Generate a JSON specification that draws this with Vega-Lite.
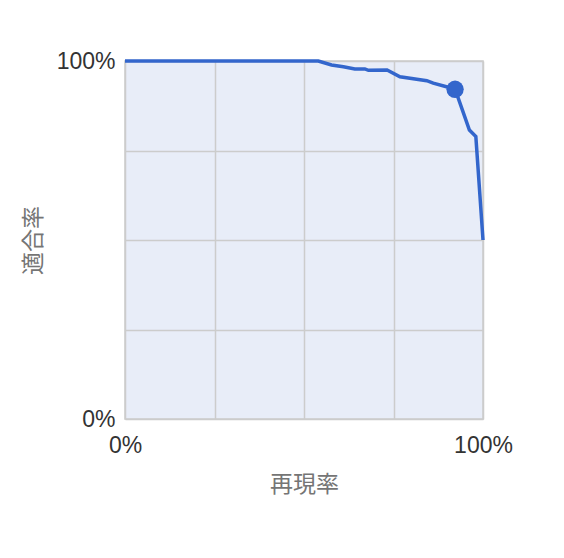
{
  "$schema": "https://vega.github.io/schema/vega-lite/v6.json",
  "width": 358,
  "height": 358,
  "autosize": {"type": "none"},
  "padding": {"left": 125, "top": 61, "right": 81, "bottom": 139},
  "background": "white",
  "config": {
    "view": {"fill": "#e8edf8", "stroke": "#cccccc", "strokeWidth": 1.5},
    "font": "Liberation Sans",
    "axis": {
      "grid": true,
      "gridColor": "#cccccc",
      "gridWidth": 1.5,
      "domain": false,
      "ticks": false,
      "labelFontSize": 23,
      "labelColor": "#333333",
      "labelFlush": false,
      "labelOverlap": false,
      "titleFontSize": 23,
      "titleFontWeight": "normal",
      "titleColor": "#757575",
      "titleFont": "Noto Sans CJK JP"
    }
  },
  "datasets": {
    "curve": [
      {"step": 1, "recall": 0.0, "precision": 1.0},
      {"step": 2, "recall": 0.54, "precision": 1.0},
      {"step": 3, "recall": 0.577, "precision": 0.989},
      {"step": 4, "recall": 0.61, "precision": 0.984},
      {"step": 5, "recall": 0.642, "precision": 0.978},
      {"step": 6, "recall": 0.67, "precision": 0.978},
      {"step": 7, "recall": 0.68, "precision": 0.974},
      {"step": 8, "recall": 0.732, "precision": 0.975},
      {"step": 9, "recall": 0.768, "precision": 0.956},
      {"step": 10, "recall": 0.843, "precision": 0.945},
      {"step": 11, "recall": 0.861, "precision": 0.938},
      {"step": 12, "recall": 0.898, "precision": 0.928},
      {"step": 13, "recall": 0.922, "precision": 0.921},
      {"step": 14, "recall": 0.945, "precision": 0.856},
      {"step": 15, "recall": 0.962, "precision": 0.807},
      {"step": 16, "recall": 0.98, "precision": 0.789},
      {"step": 17, "recall": 1.0, "precision": 0.5}
    ],
    "selected": [
      {"recall": 0.922, "precision": 0.921}
    ]
  },
  "encoding": {
    "x": {
      "field": "recall",
      "type": "quantitative",
      "scale": {"domain": [0, 1], "nice": false, "zero": false},
      "axis": {
        "title": "再現率",
        "values": [0, 0.25, 0.5, 0.75, 1],
        "format": ".0%",
        "labelExpr": "datum.value == 0 || datum.value == 1 ? datum.label : ''",
        "labelPadding": 15,
        "titlePadding": 16
      }
    },
    "y": {
      "field": "precision",
      "type": "quantitative",
      "scale": {"domain": [0, 1], "nice": false, "zero": false},
      "axis": {
        "title": "適合率",
        "values": [0, 0.25, 0.5, 0.75, 1],
        "format": ".0%",
        "labelExpr": "datum.value == 0 || datum.value == 1 ? datum.label : ''",
        "labelPadding": 10,
        "titlePadding": 11
      }
    }
  },
  "layer": [
    {
      "data": {"name": "curve"},
      "mark": {"type": "line", "color": "#3366cc", "strokeWidth": 3.5, "clip": false},
      "encoding": {"order": {"field": "step", "type": "quantitative"}}
    },
    {
      "data": {"name": "selected"},
      "mark": {"type": "point", "filled": true, "opacity": 1, "color": "#3366cc", "size": 300}
    }
  ]
}
